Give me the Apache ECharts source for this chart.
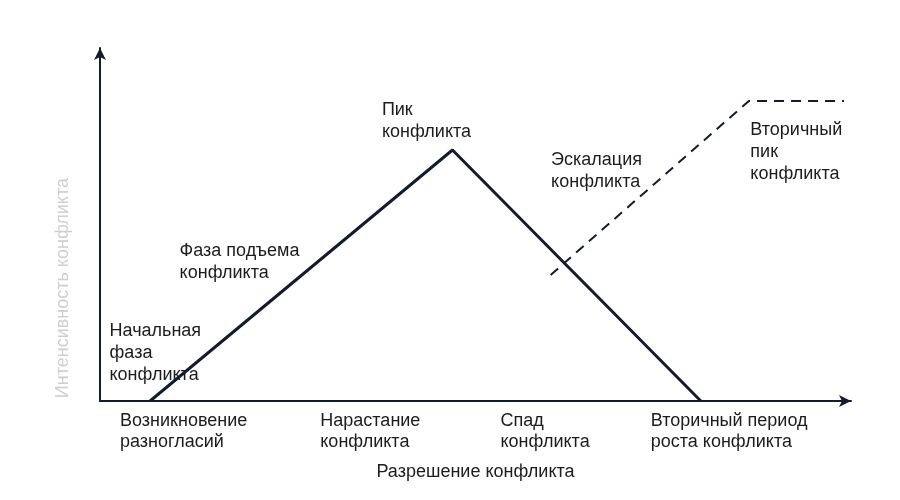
<!DOCTYPE html>
<head>
    <meta charset="utf-8">
    <title>ECharts</title>
    <style>
    html,body { height:100%; width:100%; margin:0; background:white; padding:0; }
    #main { width:900px; height:500px; }
    </style>
</head>
<body>
    <div id="main"></div>
    <script src="https://cdn.jsdelivr.net/npm/echarts@6/dist/echarts.min.js"></script>
    <script type="text/javascript">
    // данные графика
    var stageNames = ['Возникновение\nразногласий', 'Нарастание\nконфликта', 'Спад\nконфликта', 'Вторичный период\nроста конфликта'];
    var stageX = [20, 220, 400, 550];
    var mainCurve = [[50, 0], [352, 71.1], [600, 0]];
    var secondCurve = [[450, 35.7], [648, 85], [743, 85]];
    var noteNames = ['Начальная\nфаза\nконфликта', 'Фаза подъема\nконфликта', 'Пик\nконфликта', 'Эскалация\nконфликта', 'Вторичный\nпик\nконфликта'];
    var notePos = [[10, 22.9], [80, 45.6], [282, 85.3], [451, 71.1], [650, 79.6]];

    var ink = '#141b2d';
    var txt = '#1c1c1c';
    var font = 'Liberation Sans';

    var notes = [];
    for (var i = 0; i < noteNames.length; i++) {
        notes.push({ name: noteNames[i], value: notePos[i] });
    }

    var myChart = echarts.init(document.getElementById('main'));
    var option = {
        animation: false,
        textStyle: { fontFamily: font },
        grid: { left: 100, right: 49, top: 48, bottom: 99 },
        xAxis: {
            type: 'value', min: 0, max: 750,
            name: 'Разрешение конфликта',
            nameLocation: 'middle', nameGap: 62,
            nameTextStyle: { color: txt, fontSize: 18, fontFamily: font },
            axisLine: { show: true, symbol: ['none', 'arrow'], symbolSize: [9, 12], lineStyle: { color: ink, width: 2 } },
            axisTick: { show: false },
            splitLine: { show: false },
            axisLabel: {
                customValues: stageX,
                formatter: function (v) { return stageNames[stageX.indexOf(v)]; },
                align: 'left', color: txt, fontSize: 18, lineHeight: 21, margin: 10, fontFamily: font
            }
        },
        yAxis: {
            type: 'value', min: 0, max: 100,
            axisLine: { show: true, symbol: ['none', 'arrow'], symbolSize: [9, 12], lineStyle: { color: ink, width: 2 } },
            axisTick: { show: false },
            axisLabel: { show: false },
            splitLine: { show: false }
        },
        graphic: [{
            type: 'text', left: 54, top: 178, rotation: Math.PI / 2,
            style: { text: 'Интенсивность конфликта', fill: '#cfcfcf', fontSize: 18, fontFamily: font }
        }],
        series: [{
            type: 'line', data: mainCurve, symbol: 'none',
            lineStyle: { color: ink, width: 3 }
        }, {
            type: 'line', data: secondCurve, symbol: 'none',
            lineStyle: { color: ink, width: 2, type: [10, 7] }
        }, {
            type: 'scatter', data: notes, symbolSize: 1,
            itemStyle: { color: 'rgba(0,0,0,0)', opacity: 1 },
            label: {
                show: true, position: [0, 0], align: 'left', verticalAlign: 'top',
                formatter: '{b}', color: txt, fontSize: 18, lineHeight: 22, fontFamily: font
            }
        }]
    };
    myChart.setOption(option);
    </script>
</body>
